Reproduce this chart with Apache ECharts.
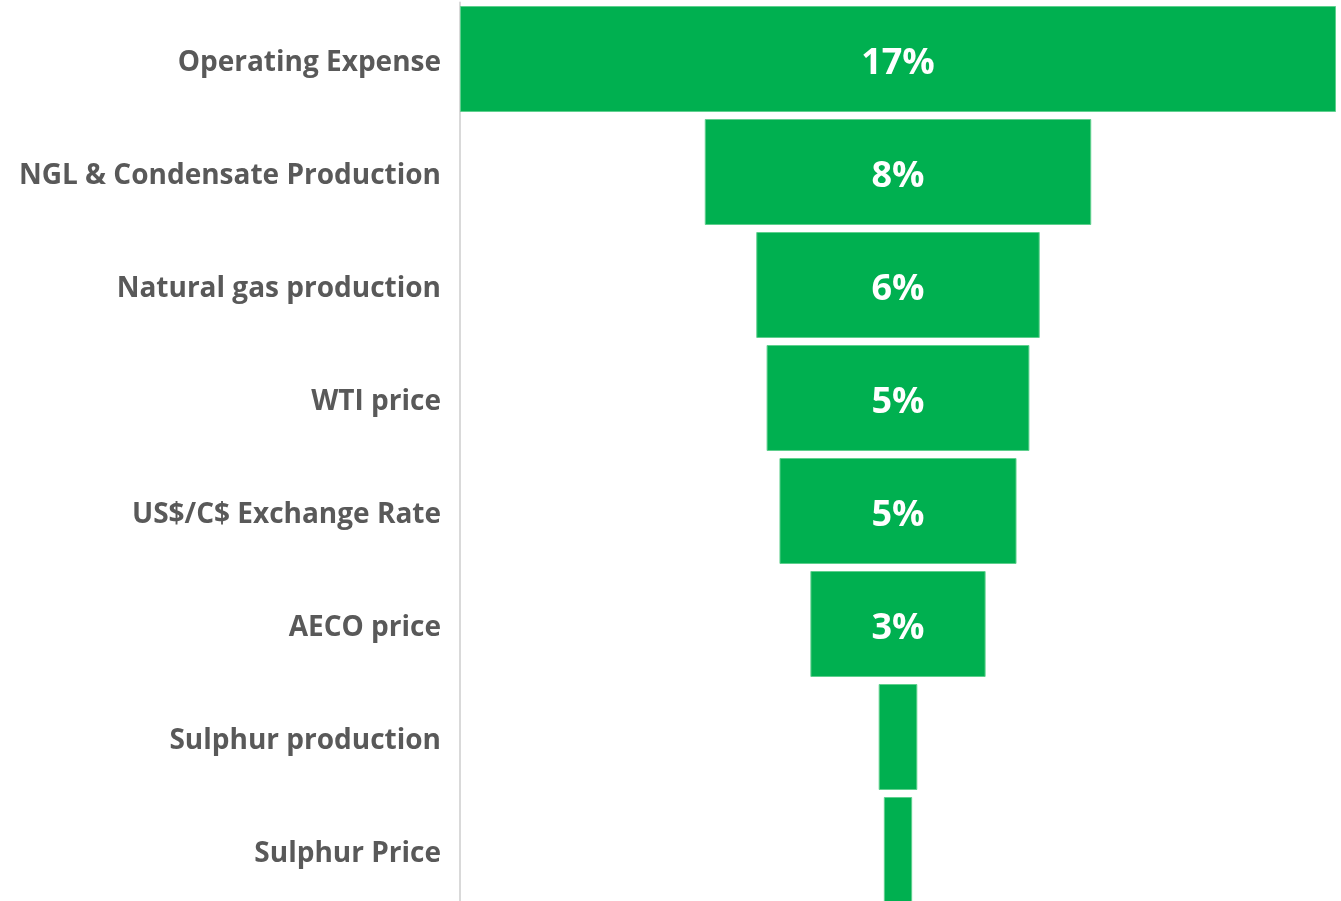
<!DOCTYPE html>
<html>
<head>
<meta charset="utf-8">
<script src="https://cdn.jsdelivr.net/npm/echarts@6/dist/echarts.min.js"></script>
<style>
  html, body { margin: 0; padding: 0; background: #fff; overflow: hidden; }
  #chart { width: 1341px; height: 910px; }
</style>
</head>
<body>
<div id="chart"></div>
<script>
// sensitivity drivers, top to bottom
const categories = [
  "Operating Expense",
  "NGL & Condensate Production",
  "Natural gas production",
  "WTI price",
  "US$/C$ Exchange Rate",
  "AECO price",
  "Sulphur production",
  "Sulphur Price"
];
// impact in %
const impact = [17, 7.5, 5.5, 5.1, 4.6, 3.4, 0.75, 0.55];

const maxImpact = Math.max(...impact);
// transparent spacer so each bar sits centred
const spacer = impact.map(v => (maxImpact - v) / 2);

const chart = echarts.init(document.getElementById("chart"));
chart.setOption({
  animation: false,
  grid: {
    left: 460,
    right: 5,
    top: 2.5,
    bottom: 3.5,
    containLabel: false
  },
  xAxis: {
    type: "value",
    min: 0,
    max: maxImpact,
    show: false
  },
  yAxis: {
    type: "category",
    data: categories,
    inverse: true,
    axisLine: {
      show: true,
      lineStyle: { color: "#d9d9d9", width: 2 }
    },
    axisTick: { show: false },
    axisLabel: {
      margin: 19,
      formatter: v => "{t|" + v + "}",
      rich: {
        t: {
          color: "#595959",
          fontFamily: "Open Sans",
          fontWeight: "bold",
          fontSize: 28,
          padding: [9, 0, 0, 0]
        }
      }
    }
  },
  series: [
    {
      type: "bar",
      stack: "funnel",
      data: spacer,
      itemStyle: { color: "transparent" },
      silent: true
    },
    {
      type: "bar",
      stack: "funnel",
      data: impact,
      barCategoryGap: "6.2%",
      itemStyle: {
        color: "#00b050",
        borderColor: "#5fd08e",
        borderWidth: 1
      },
      label: {
        show: true,
        position: "inside",
        offset: [0, 5],
        color: "#fff",
        fontFamily: "Open Sans",
        fontWeight: "bold",
        fontSize: 36,
        formatter: p => (p.value >= 1 ? Math.round(p.value) + "%" : "")
      }
    }
  ]
});
</script>
</body>
</html>
